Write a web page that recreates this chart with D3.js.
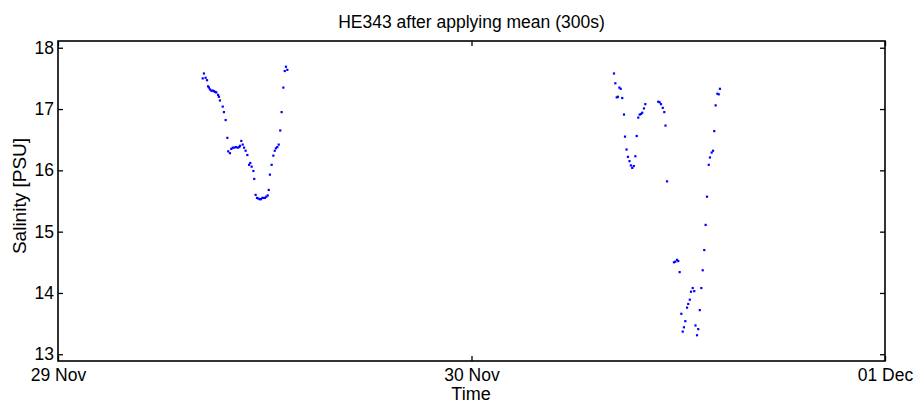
<!DOCTYPE html>
<html>
<head>
<meta charset="utf-8">
<script src="https://cdn.jsdelivr.net/npm/d3@7"></script>
<style>
  html, body { margin: 0; padding: 0; background: #fff; }
  svg text { font-family: "Liberation Sans", Arial, sans-serif; fill: #000; }
</style>
</head>
<body>
<svg id="chart" width="918" height="405"></svg>
<script>
// Hours after 29 Nov 00:00 for each 300 s mean, and the salinity (PSU)
const hoursA = [8.40,8.47,8.57,8.65,8.71,8.76,8.82,8.90,8.98,9.05,9.13,9.19,9.29,9.34,9.40,9.56,9.63,9.73,9.83,9.88,
  9.98,10.06,10.14,10.23,10.33,10.43,10.52,10.56,10.64,10.72,10.80,10.89,10.99,11.09,11.16,11.24,11.34,11.39,11.47,11.55,
  11.63,11.71,11.78,11.86,11.94,12.01,12.09,12.17,12.23,12.30,12.40,12.50,12.58,12.65,12.73,12.81,12.90,12.98,13.08,13.16,
  13.23,13.31];
const salA = [17.50,17.58,17.51,17.47,17.37,17.35,17.32,17.30,17.30,17.29,17.28,17.27,17.23,17.20,17.14,17.04,16.95,16.82,16.53,16.31,
  16.28,16.35,16.37,16.37,16.38,16.37,16.38,16.40,16.48,16.42,16.37,16.32,16.25,16.09,16.12,16.06,15.99,15.86,15.60,15.55,
  15.54,15.53,15.53,15.55,15.55,15.55,15.57,15.59,15.68,15.93,16.09,16.24,16.32,16.36,16.38,16.42,16.65,16.95,17.35,17.62,
  17.69,17.64];
const hoursB = [32.27,32.35,32.43,32.50,32.58,32.66,32.75,32.85,32.91,33.00,33.08,33.17,33.25,33.33,33.42,33.51,33.59,33.68,33.76,33.84,
  33.91,34.01,34.09,34.84,34.92,35.00,35.10,35.19,35.26,35.35,35.75,35.83,35.93,36.00,36.08,36.18,36.26,36.33,36.41,36.51,
  36.58,36.67,36.74,36.84,36.93,37.00,37.09,37.16,37.25,37.34,37.42,37.51,37.59,37.67,37.77,37.84,37.94,38.02,38.09,38.17,
  38.27,38.35,38.42];
const salB = [17.58,17.42,17.19,17.20,17.35,17.33,17.18,16.91,16.55,16.34,16.22,16.15,16.08,16.04,16.07,16.23,16.56,16.86,16.91,16.92,
  16.94,17.01,17.08,17.12,17.11,17.08,17.02,16.95,16.73,15.82,14.50,14.51,14.54,14.52,14.34,13.66,13.37,13.44,13.54,13.76,
  13.82,13.89,14.02,14.08,14.03,13.47,13.31,13.41,13.72,14.08,14.37,14.70,15.11,15.57,16.09,16.21,16.29,16.32,16.64,17.06,
  17.25,17.24,17.33];
const yTicks = [13, 14, 15, 16, 17, 18];
const xTickDays = ["2010-11-29", "2010-11-30", "2010-12-01"];
const titleText = "HE343 after applying mean (300s)";
const xLabel = "Time";
const yLabel = "Salinity [PSU]";

const t0 = new Date(2010, 10, 29, 0, 0, 0);
const toDate = h => new Date(t0.getTime() + h * 3600 * 1000);
const points = hoursA.map((h, i) => ({ t: toDate(h), s: salA[i] }))
  .concat(hoursB.map((h, i) => ({ t: toDate(h), s: salB[i] })));

const svg = d3.select("#chart");
const pL = 58, pR = 885, pT = 41, pB = 361;

const x = d3.scaleTime()
  .domain([new Date(2010, 10, 29), new Date(2010, 11, 1)])
  .range([pL, pR]);
const y = d3.scaleLinear().domain([12.89, 18.11]).range([pB, pT]);

const xTickVals = xTickDays.map(s => { const p = s.split("-").map(Number); return new Date(p[0], p[1] - 1, p[2]); });
const fmt = d3.timeFormat("%d %b");

// Points
svg.append("g").selectAll("rect").data(points).join("rect")
  .attr("x", d => x(d.t) - 1.1)
  .attr("y", d => y(d.s) - 1.1)
  .attr("width", 2.2).attr("height", 2.2)
  .attr("fill", "#0000ff");

// Axes (MATLAB-like box with inward ticks on all sides)
const axB = d3.axisBottom(x).tickValues(xTickVals).tickFormat(fmt).tickSizeInner(-5).tickSizeOuter(0).tickPadding(8);
const axT = d3.axisTop(x).tickValues(xTickVals).tickFormat("").tickSizeInner(-5).tickSizeOuter(0);
const axL = d3.axisLeft(y).tickValues(yTicks).tickFormat(d3.format("d")).tickSizeInner(-5).tickSizeOuter(0).tickPadding(4);
const axR = d3.axisRight(y).tickValues(yTicks).tickFormat("").tickSizeInner(-5).tickSizeOuter(0);

function style(g) {
  g.select(".domain").remove();
  g.selectAll(".tick line").attr("stroke", "#000").attr("stroke-width", 1.3);
  g.selectAll(".tick text").attr("font-size", 17.5).attr("fill", "#000")
    .attr("font-family", "'Liberation Sans', Arial, sans-serif");
}
svg.append("g").attr("transform", `translate(0,${pB})`).call(axB).call(style);
svg.append("g").attr("transform", `translate(0,${pT})`).call(axT).call(style);
svg.append("g").attr("transform", `translate(${pL},0)`).call(axL).call(style);
svg.append("g").attr("transform", `translate(${pR},0)`).call(axR).call(style);

svg.append("rect")
  .attr("x", pL).attr("y", pT)
  .attr("width", pR - pL).attr("height", pB - pT)
  .attr("fill", "none").attr("stroke", "#000").attr("stroke-width", 1.6);

svg.append("text").attr("x", (pL + pR) / 2).attr("y", 27.5)
  .attr("text-anchor", "middle").attr("font-size", 17.5).text(titleText);
svg.append("text").attr("x", 471).attr("y", 400)
  .attr("text-anchor", "middle").attr("font-size", 18).text(xLabel);
svg.append("text").attr("transform", `translate(26,196) rotate(-90)`)
  .attr("text-anchor", "middle").attr("font-size", 19).text(yLabel);
</script>
</body>
</html>
